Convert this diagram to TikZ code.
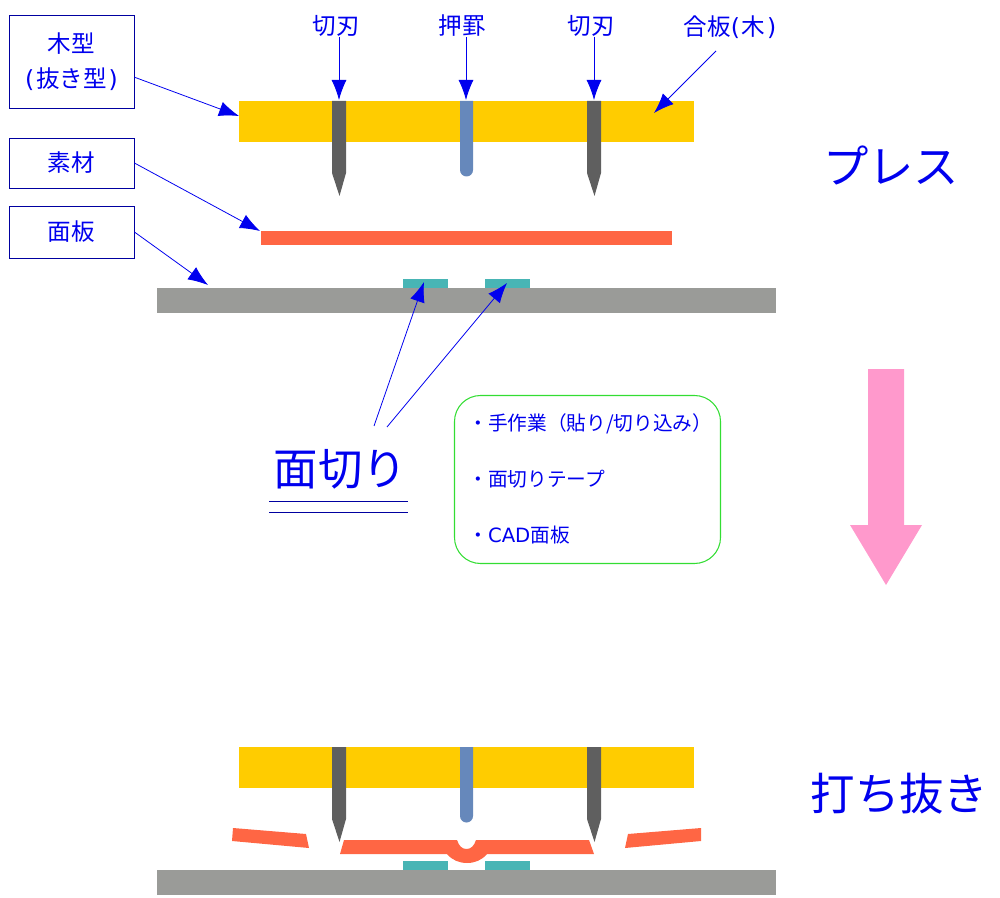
\documentclass[tikz,border=0pt]{standalone}
\usepackage{fontspec}
\setmainfont{Noto Sans CJK JP}
\newfontfamily\latinfont{DejaVu Sans}
\usetikzlibrary{arrows.meta}
\definecolor{woodyellow}{HTML}{FFCC00}
\definecolor{bladegray}{HTML}{5F5F5F}
\definecolor{creaseblue}{HTML}{6688BB}
\definecolor{sheetred}{HTML}{FF6644}
\definecolor{panelgray}{HTML}{9A9B98}
\definecolor{tapeteal}{HTML}{48B5B5}
\definecolor{framegreen}{HTML}{33DD33}
\definecolor{downpink}{HTML}{FF99CC}
\definecolor{labelblue}{HTML}{0000EE}
\definecolor{framenavy}{HTML}{0000A0}
\tikzset{
  namebox/.style={draw=framenavy, line width=0.5pt, align=center, inner sep=0pt,
    minimum width=2.5cm, text=labelblue, font=\fontsize{13.4}{20}\selectfont},
  toplabel/.style={text=labelblue, inner sep=0pt, font=\fontsize{13.4}{16}\selectfont},
  biglabel/.style={text=labelblue, inner sep=0pt, font=\fontsize{25.3}{30}\selectfont},
  listlabel/.style={text=labelblue, inner sep=0pt, anchor=west, font=\fontsize{11.2}{14}\selectfont},
  arr/.style={-{Latex[length=4mm,width=3mm]}, line width=0.45pt, draw=labelblue},
  rule/.style={line width=0.5pt, draw=framenavy}
}
\begin{document}
\begin{tikzpicture}[x=0.02cm,y=-0.02cm]
  \useasboundingbox (0,0) rectangle (1000,898);
  % upper press
  \fill[woodyellow] (239,101) rectangle (694,142);
  \fill[sheetred] (261,231) rectangle (672,245);
  \fill[tapeteal] (403,279) rectangle (448,288);
  \fill[tapeteal] (485,279) rectangle (530,288);
  \fill[panelgray] (157,288) rectangle (776,313);
  \foreach \bx in {339,594}
    \fill[bladegray] (\bx-7,101) -- (\bx+7,101) -- (\bx+7,173) -- (\bx+0.5,196) -- (\bx-7,173) -- cycle;
  \fill[creaseblue] (460,101) -- (473,101) -- (473,170) arc (0:180:6.5) -- cycle;
  % lower press
  \fill[woodyellow] (239,747) rectangle (694,788);
  \fill[tapeteal] (403,861) rectangle (448,870);
  \fill[tapeteal] (485,861) rectangle (530,870);
  \fill[panelgray] (157,870) rectangle (776,895);
  \foreach \bx in {339,594}
    \fill[bladegray] (\bx-7,747) -- (\bx+7,747) -- (\bx+7,819) -- (\bx+0.5,842) -- (\bx-7,819) -- cycle;
  \fill[creaseblue] (460,747) -- (473,747) -- (473,816) arc (0:180:6.5) -- cycle;
  \fill[sheetred] (233,828) -- (306,834) -- (309,848) -- (232,841) -- cycle;
  \fill[sheetred] (701,828) -- (628,834) -- (625,848) -- (701,841) -- cycle;
  \fill[sheetred] (344,840) -- (457,840) .. controls (459,846) and (462,849) .. (466.5,849)
    .. controls (471,849) and (474,846) .. (476,840) -- (589,840) -- (594,854) -- (487,854)
    .. controls (482,860) and (475,863) .. (467,863) .. controls (459,863) and (452,860) .. (447,854)
    -- (340,854) -- cycle;
  % arrow ends
  \coordinate (boardleft) at (239,116);
  \coordinate (boardright) at (654,113);
  \coordinate (sheetleft) at (260,231);
  \coordinate (panelleft) at (208,285);
  \coordinate (knifeleft) at (339,100);
  \coordinate (creasetop) at (466,100);
  \coordinate (kniferight) at (594,100);
  \coordinate (tapeleft) at (424,282);
  \coordinate (taperight) at (507,283);
  \coordinate (cutleft) at (374,426);
  \coordinate (cutright) at (387,427);
  \coordinate (plywoodfoot) at (716,51);
  % labels
  \node[namebox, minimum height=1.86cm] (woodbox) at (71.5,61.5) {木型\\{\latinfont(}\kern1pt 抜き型\kern1pt{\latinfont)}};
  \node[namebox, minimum height=1cm] (sheetbox) at (71.5,163) {素材};
  \node[namebox, minimum height=1.04cm] (panelbox) at (71.5,232) {面板};
  \node[toplabel] (knifeA) at (336.5,26) {切刃};
  \node[toplabel] (creaser) at (462,26) {押罫};
  \node[toplabel] (knifeB) at (591,26) {切刃};
  \node[toplabel] (plywood) at (730,27) {合板{\latinfont(}\kern1pt 木\kern1pt{\latinfont)}};
  \node[biglabel, font=\fontsize{25.8}{30}\selectfont] (press) at (891,165) {プレス};
  \node[biglabel] (punch) at (899.5,794) {打ち抜き};
  \node[biglabel] (facecut) at (340.5,469) {面切り};
  \draw[rule] (269,501) -- (408,501);
  \draw[rule] (269,512) -- (408,512);
  \draw[line width=0.6pt, draw=framegreen, rounded corners=0.52cm] (454.5,395.5) rectangle (720.5,563.5);
  \node[listlabel] (listA) at (468,424) {・手作業（貼り/切り込み）};
  \node[listlabel] (listB) at (468,479) {・面切りテープ};
  \node[listlabel] (listC) at (468,535) {・{\latinfont CAD}面板};
  % connectors
  \draw[arr] (woodbox.-14) -- (boardleft);
  \draw[arr] (sheetbox.east) -- (sheetleft);
  \draw[arr] (panelbox.east) -- (panelleft);
  \draw[arr] (knifeleft |- knifeA.south) -- (knifeleft);
  \draw[arr] (creasetop |- creaser.south) -- (creasetop);
  \draw[arr] (kniferight |- knifeB.south) -- (kniferight);
  \draw[arr] (plywoodfoot) -- (boardright);
  \draw[arr] (cutleft) -- (tapeleft);
  \draw[arr] (cutright) -- (taperight);
  % big arrow
  \fill[downpink] (868,369) -- (904,369) -- (904,525) -- (922,525) -- (886,585) -- (850,525) -- (868,525) -- cycle;
\end{tikzpicture}
\end{document}
